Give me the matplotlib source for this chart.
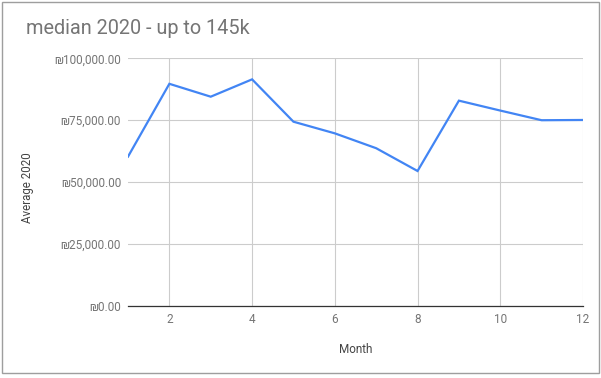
import matplotlib
matplotlib.use('Agg')
import matplotlib.pyplot as plt
from matplotlib.patches import Rectangle
from matplotlib.ticker import FuncFormatter

# values
months = [1, 2, 3, 4, 5, 6, 7, 8, 9, 10, 11, 12]
average_2020 = [60300, 89700, 84500, 91500, 74400, 69700, 63700, 54500, 82900, 78900, 75000, 75100]
y_ticks = [0, 25000, 50000, 75000, 100000]
x_ticks = [2, 4, 6, 8, 10, 12]

fonts = ['Roboto', 'DejaVu Sans']
plt.rcParams['font.family'] = fonts
grey = '#757575'

fig = plt.figure(figsize=(6.01, 3.78), dpi=100)
ax = fig.add_axes([128 / 601, 1 - 306 / 378, (583 - 128) / 601, (306 - 58.3) / 378])

ax.plot(months, average_2020, color='#4285F4', linewidth=1.6, solid_joinstyle='miter', zorder=3)

ax.set_xlim(1, 12)
ax.set_ylim(0, 100000)
ax.set_xticks(x_ticks)
ax.set_yticks(y_ticks)
ax.yaxis.set_major_formatter(FuncFormatter(lambda v, p: '\u20aa{:,.2f}'.format(v)))
ax.grid(True, color='#cccccc', linewidth=0.8)
ax.set_axisbelow(True)
for side in ['top', 'right', 'left']:
    ax.spines[side].set_visible(False)
ax.spines['bottom'].set_color('#333333')
ax.spines['bottom'].set_linewidth(0.9)
ax.spines['bottom'].set_zorder(4)
ax.tick_params(length=0, labelsize=8.5, labelcolor=grey)
ax.tick_params(axis='x', pad=5)
ax.tick_params(axis='y', pad=5)

ax.set_xlabel('Month', fontsize=8.5, color='#444444', labelpad=12)
fig.text(27 / 601, 1 - 188 / 378, 'Average 2020', rotation=90, ha='center', va='center',
         fontsize=8.3, color='#444444')
fig.text(26 / 601, 1 - 28.5 / 378, 'median 2020 - up to 145k', ha='left', va='center',
         fontsize=14.3, color=grey)

fig.patches.append(Rectangle((1.5 / 601, 1 - 373 / 378), 597 / 601, 371 / 378,
                             transform=fig.transFigure, fill=False,
                             edgecolor='#9e9e9e', linewidth=1))

fig.savefig('out.png', dpi=100)
